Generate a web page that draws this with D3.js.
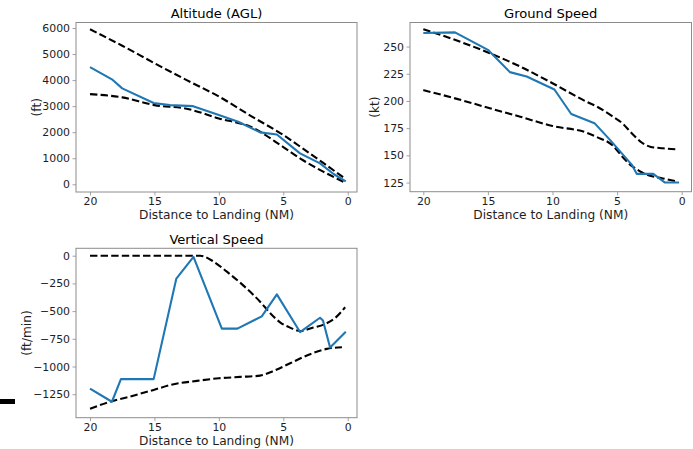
<!DOCTYPE html>
<html>
<head>
<meta charset="utf-8">
<script src="https://cdn.jsdelivr.net/npm/d3@7"></script>
<style>
  html, body { margin: 0; padding: 0; background: #fff; }
  svg { display: block; font-family: "DejaVu Sans", sans-serif; }
</style>
</head>
<body>
<svg id="chart" width="693" height="449"></svg>
<script>
// Approach profiles against distance to landing (NM)
const xTicks = [20, 15, 10, 5, 0];

// Altitude (AGL), ft
const altDist   = [20, 18.3, 17.5, 15.06, 13.8, 12, 10, 8.5, 6.8, 5.5, 3.7, 2.15, 1.1, 0.15];
const altFlight = [4500, 4030, 3683, 3120, 3040, 3000, 2659, 2403, 1993, 1910, 1188, 804, 395, 110];
const altBandDist  = [20, 17.5, 15, 12.5, 10, 7.5, 5, 3.5, 1.9, 0.3];
const altUpper     = [5950, 5320, 4650, 4000, 3370, 2620, 1890, 1380, 820, 250];
const altLower     = [3460, 3337, 3040, 2900, 2530, 2200, 1430, 932, 485, 90];
const altTicks = [0, 1000, 2000, 3000, 4000, 5000, 6000];

// Ground speed, kt
const gsDist   = [20, 17.55, 15, 13.3, 12.0, 9.85, 8.55, 6.75, 5.55, 3.87, 3.48, 2.2, 1.29, 0.2];
const gsFlight = [262.5, 263, 247, 226.5, 222.5, 210.5, 188, 179.6, 164.2, 141.5, 133, 133, 125, 125];
const gsBandDist = [20, 17.4, 14.85, 12.5, 10, 7.4, 6.6, 5.33, 4.5, 4.0, 3.5, 3.1, 2.45, 1.47, 0.3];
const gsUpper    = [266, 255.5, 243.9, 231.6, 216.3, 199.5, 195, 185.7, 178.5, 172, 166, 161.8, 158, 156.5, 155.5];
const gsLower    = [210, 201.9, 193.3, 185.5, 177, 171, 167, 159, 147.5, 141.5, 137.5, 134.5, 131.3, 128.8, 125.9];
const gsTicks = [125, 150, 175, 200, 225, 250];

// Vertical speed, ft/min
const vsDist   = [20, 18.3, 17.6, 15.06, 13.3, 11.97, 9.77, 8.56, 6.67, 5.5, 3.7, 2.15, 1.92, 1.37, 0.15];
const vsFlight = [-1200, -1318, -1114, -1114, -206, -10, -658, -658, -547, -349, -689, -560, -585, -828, -686];
const vsUpperDist = [20, 15, 11.45, 10.4, 9.38, 8.09, 6.8, 6.0, 5.25, 4.47, 3.7, 2.67, 1.63, 0.86, 0.2];
const vsUpper     = [0, 0, 0, -54, -144, -270, -415, -520, -601, -649, -680, -649, -610, -550, -465];
const vsLowerDist = [20, 18.4, 16.9, 15.06, 13.5, 11.7, 10.0, 8.35, 6.8, 5.76, 4.47, 2.92, 1.63, 0.45];
const vsLower     = [-1382, -1316, -1271, -1211, -1160, -1130, -1106, -1094, -1082, -1040, -971, -889, -841, -826];
const vsTicks = [-1250, -1000, -750, -500, -250, 0];

const svg = d3.select("#chart");
const BLUE = "#1f77b4";
const SPINE = "#8c8c8c";
const TEXT = "#1e1e1e";

function panel(cfg) {
  const x = d3.scaleLinear().domain(cfg.xDomain).range([cfg.left, cfg.right]);
  const y = d3.scaleLinear().domain(cfg.yDomain).range([cfg.bottom, cfg.top]);
  const g = svg.append("g");

  // axes with outward ticks
  const xAxis = d3.axisBottom(x).tickValues(xTicks).tickSize(3.5).tickPadding(2).tickFormat(d3.format("d"));
  const yAxis = d3.axisLeft(y).tickValues(cfg.yTicks).tickSize(3.5).tickPadding(2.5)
    .tickFormat(d => d3.format("d")(d).replace("-", "\u2212"));
  const gx = g.append("g").attr("transform", `translate(0,${cfg.bottom})`).call(xAxis);
  const gy = g.append("g").attr("transform", `translate(${cfg.left},0)`).call(yAxis);
  [gx, gy].forEach(a => {
    a.select(".domain").remove();
    a.selectAll(".tick line").attr("stroke", SPINE).attr("stroke-width", 0.8);
    a.selectAll(".tick text").attr("fill", TEXT).style("font-size", "10.9px")
      .style("font-family", "'DejaVu Sans', sans-serif");
  });

  const clipId = "clip" + cfg.id;
  g.append("clipPath").attr("id", clipId).append("rect")
    .attr("x", cfg.left).attr("y", cfg.top)
    .attr("width", cfg.right - cfg.left).attr("height", cfg.bottom - cfg.top);
  const plot = g.append("g").attr("clip-path", `url(#${clipId})`);
  const line = d3.line().x(d => x(d[0])).y(d => y(d[1]));

  cfg.dashed.forEach(s => {
    plot.append("path").datum(d3.zip(s[0], s[1])).attr("d", line.curve(d3.curveMonotoneX))
      .attr("fill", "none").attr("stroke", "#000").attr("stroke-width", 2.1)
      .attr("stroke-dasharray", "7.4,3.2");
  });
  plot.append("path").datum(d3.zip(cfg.flight[0], cfg.flight[1])).attr("d", line.curve(d3.curveLinear))
    .attr("fill", "none").attr("stroke", BLUE).attr("stroke-width", 2.1)
    .attr("stroke-linejoin", "round");

  // frame
  g.append("rect").attr("x", cfg.left).attr("y", cfg.top)
    .attr("width", cfg.right - cfg.left).attr("height", cfg.bottom - cfg.top)
    .attr("fill", "none").attr("stroke", SPINE).attr("stroke-width", 1);

  g.append("text").attr("x", (cfg.left + cfg.right) / 2).attr("y", cfg.top - 4.5)
    .attr("text-anchor", "middle").style("font-size", "13.1px").attr("fill", "#000").text(cfg.title);
  g.append("text").attr("x", (cfg.left + cfg.right) / 2).attr("y", cfg.bottom + 27.3)
    .attr("text-anchor", "middle").style("font-size", "12.2px").attr("fill", TEXT)
    .text("Distance to Landing (NM)");
  g.append("text")
    .attr("transform", `translate(${cfg.yLabelX},${(cfg.top + cfg.bottom) / 2}) rotate(-90)`)
    .attr("text-anchor", "middle").style("font-size", "12.2px").attr("fill", TEXT).text(cfg.yLabel);
}

panel({
  id: 1, title: "Altitude (AGL)", yLabel: "(ft)", yLabelX: 41,
  left: 76, right: 357, top: 22.5, bottom: 192,
  xDomain: [21.087, -0.72], yDomain: [-296, 6211], yTicks: altTicks,
  flight: [altDist, altFlight],
  dashed: [[altBandDist, altUpper], [altBandDist, altLower]]
});

panel({
  id: 2, title: "Ground Speed", yLabel: "(kt)", yLabelX: 379,
  left: 410, right: 691.5, top: 22.5, bottom: 191.7,
  xDomain: [21.03, -0.76], yDomain: [116.6, 272.1], yTicks: gsTicks,
  flight: [gsDist, gsFlight],
  dashed: [[gsBandDist, gsUpper], [gsBandDist, gsLower]]
});

panel({
  id: 3, title: "Vertical Speed", yLabel: "(ft/min)", yLabelX: 31,
  left: 76, right: 357, top: 248.3, bottom: 417.7,
  xDomain: [21.087, -0.72], yDomain: [-1462, 66.8], yTicks: vsTicks,
  flight: [vsDist, vsFlight],
  dashed: [[vsUpperDist, vsUpper], [vsLowerDist, vsLower]]
});

// short black bar at the left edge
svg.append("rect").attr("x", 0).attr("y", 399).attr("width", 15).attr("height", 5).attr("fill", "#000");
</script>
</body>
</html>
